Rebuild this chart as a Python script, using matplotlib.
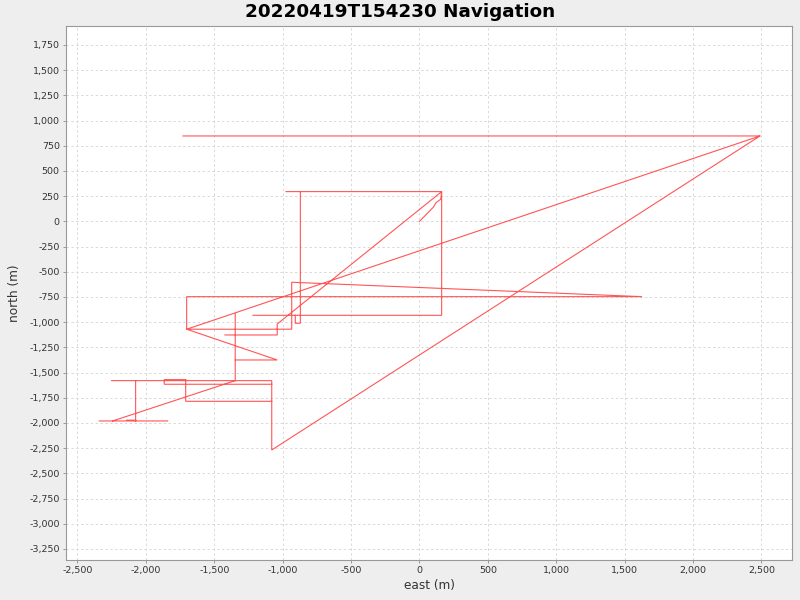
import matplotlib
matplotlib.use("Agg")
import matplotlib.pyplot as plt
import numpy as np
from matplotlib.ticker import FuncFormatter, MultipleLocator

nan = np.nan

# Navigation track (metres); nan splits the pieces
EAST = [0, 101, 121, 155, 162, -976, nan,
        -871, -871, -908, -908, nan,
        -1217, 162, 162, -1040, -1040, -1422, nan,
        -1347, -1347, nan,
        -1347, -1040, -1702, -1702, 1627, -934, -934, -1702, 2489, -1080,
        -1080, -2250, nan,
        -2075, -2075, nan,
        -2341, -1841, nan,
        -2243, -1347, nan,
        -2140, -2075, nan,
        -1709, -1866, -1866, -1080, nan,
        -1080, -1709, -1709, nan,
        -1729, 2489]
NORTH = [0, 140, 186, 219, 295, 295, nan,
         295, -1011, -1011, -932, nan,
         -932, -932, 295, -1018, -1127, -1127, nan,
         -919, -1580, nan,
         -1375, -1375, -1070, -747, -747, -604, -1070, -1070, 847, -2268,
         -1580, -1580, nan,
         -1580, -1980, nan,
         -1980, -1980, nan,
         -1980, -1580, nan,
         -1972, -1972, nan,
         -1570, -1570, -1616, -1616, nan,
         -1785, -1785, -1570, nan,
         847, 847]

TITLE = "20220419T154230 Navigation"
XLABEL = "east (m)"
YLABEL = "north (m)"

fig = plt.figure(figsize=(8, 6), dpi=100, facecolor="#eeeeee")
ax = fig.add_axes([0.0825, 0.0667, 0.9075, 0.89])
ax.set_facecolor("white")

ax.plot(EAST, NORTH, color="#ff5555", lw=0.8, solid_joinstyle="miter")

ax.set_xlim(-2584, 2723)
ax.set_ylim(-3359, 1938)
ax.xaxis.set_major_locator(MultipleLocator(500))
ax.yaxis.set_major_locator(MultipleLocator(250))
fmt = FuncFormatter(lambda v, p: f"{v:,.0f}")
ax.xaxis.set_major_formatter(fmt)
ax.yaxis.set_major_formatter(fmt)

ax.grid(True, color="#d9d9d9", lw=0.7, linestyle=(0, (2.5, 2.5)))
ax.set_axisbelow(True)
for s in ax.spines.values():
    s.set_color("#999999")
    s.set_linewidth(0.8)
ax.tick_params(direction="out", length=2.5, width=0.7, color="#999999",
               labelsize=6.8, pad=2, labelcolor="#333333")

fig.text(0.5, 0.98, TITLE, ha="center", va="center",
         fontsize=13.2, fontweight="bold")
ax.set_xlabel(XLABEL, fontsize=8.7, color="#333333", labelpad=3)
ax.set_ylabel(YLABEL, fontsize=8.7, color="#333333", labelpad=6)

fig.savefig("out.png", dpi=100, facecolor=fig.get_facecolor())
